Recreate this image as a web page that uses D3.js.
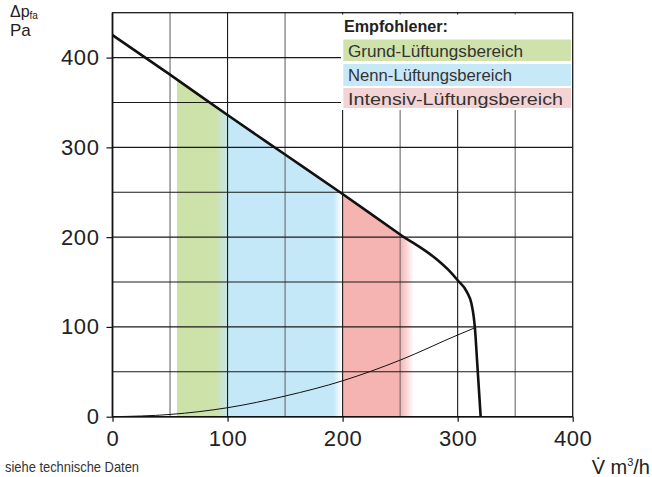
<!DOCTYPE html>
<html><head><meta charset="utf-8">
<script src="https://cdn.jsdelivr.net/npm/d3@7"></script>
<style>
html,body{margin:0;padding:0;background:#fff;}
svg{display:block;font-family:"Liberation Sans",Arial,Helvetica,sans-serif;}
</style></head>
<body>
<svg id="chart" width="652" height="477"></svg>
<script>
// ---- data ----
const xTicks = [0, 100, 200, 300, 400];
const yTicks = [0, 100, 200, 300, 400];
const gridX = [50, 100, 150, 200, 250, 300, 350];
const gridY = [50, 100, 150, 200, 250, 300, 350, 400];
const fanX = [0, 50, 100, 150, 200, 250, 283, 292, 300, 308, 312, 314, 315, 317, 320];
const fanP = [425, 381, 336, 292, 248, 203, 174, 163.5, 152, 139, 126, 111, 99, 60, 0];
const sysX = [0, 50, 100, 150, 200, 250, 300, 315];
const sysP = [0, 2.5, 10, 23, 40, 63, 91, 99];
const bandStart = 56;   // Grund begins
const bandEnd = 262;    // Intensiv fades out
const legendTitle = "Empfohlener:";
const legendLabels = ["Grund-Lüftungsbereich", "Nenn-Lüftungsbereich", "Intensiv-Lüftungsbereich"];
const legendColors = ["#cfe2ab", "#c7e8f7", "#f4d3d5"];

const svg = d3.select("#chart");
const x = d3.scaleLinear().domain([0, 400]).range([112.5, 572.7]);
const y = d3.scaleLinear().domain([0, 450]).range([416.7, 12.7]);

// ---- gradient for bands ----
const defs = svg.append("defs");
const grad = defs.append("linearGradient").attr("id", "bands")
  .attr("gradientUnits", "userSpaceOnUse")
  .attr("x1", x(bandStart)).attr("x2", x(bandEnd)).attr("y1", 0).attr("y2", 0);
const off = v => (v - bandStart) / (bandEnd - bandStart);
const stops = [
  [56, "#cde2a9"], [89, "#cde2a9"], [102, "#c5e8f8"], [192, "#c5e8f8"],
  [199.3, "#ffffff"], [199.6, "#f5b4b2"], [250, "#f5b4b2"], [262, "#ffffff"]
];
stops.forEach(s => grad.append("stop").attr("offset", off(s[0])).attr("stop-color", s[1]));

// clip area under fan curve
const fanPts = fanX.map((v, i) => [v, fanP[i]]);
const area = d3.area().x(d => x(d[0])).y0(y(0)).y1(d => y(d[1])).curve(d3.curveMonotoneX);
defs.append("clipPath").attr("id", "under").append("path").attr("d", area(fanPts));

svg.append("rect")
  .attr("x", x(bandStart)).attr("y", y(450))
  .attr("width", x(bandEnd) - x(bandStart)).attr("height", y(0) - y(450))
  .attr("fill", "url(#bands)").attr("clip-path", "url(#under)");

// ---- grid ----
svg.append("g").selectAll("line").data(gridX).join("line")
  .attr("x1", d => x(d)).attr("x2", d => x(d)).attr("y1", y(0)).attr("y2", y(450))
  .attr("stroke", d => d % 100 === 0 ? "#1a1a1a" : "#6a6a6a").attr("stroke-width", 1.1);
svg.append("g").selectAll("line").data(gridY).join("line")
  .attr("x1", x(0)).attr("x2", x(400)).attr("y1", d => y(d)).attr("y2", d => y(d))
  .attr("stroke", "#1a1a1a").attr("stroke-width", 1.1);

// ---- legend ----
const lg = svg.append("g");
lg.append("rect").attr("x", 341).attr("y", 14.5).attr("width", x(400) - 341).attr("height", 95.5).attr("fill", "#fff");
lg.append("text").attr("x", 344).attr("y", 32).attr("font-size", 16).attr("font-weight", "bold")
  .attr("fill", "#222").attr("textLength", 104).attr("lengthAdjust", "spacingAndGlyphs").text(legendTitle);
const rowTop = [39.5, 64, 88];
const rowH = [21.5, 22, 20];
const labelW = [175, 164, 215];
legendLabels.forEach((t, i) => {
  lg.append("rect").attr("x", 343.3).attr("y", rowTop[i]).attr("width", 571 - 343.3).attr("height", rowH[i])
    .attr("fill", legendColors[i]);
  lg.append("text").attr("x", 348).attr("y", rowTop[i] + 17).attr("font-size", 17)
    .attr("fill", "#333").attr("textLength", labelW[i]).attr("lengthAdjust", "spacingAndGlyphs").text(t);
});

// ---- curves ----
svg.append("path").attr("d", d3.line().x(d => x(d[0])).y(d => y(d[1])).curve(d3.curveMonotoneX)(sysX.map((v, i) => [v, sysP[i]])))
  .attr("fill", "none").attr("stroke", "#111").attr("stroke-width", 1);
svg.append("path").attr("d", d3.line().x(d => x(d[0])).y(d => y(d[1])).curve(d3.curveMonotoneX)(fanPts))
  .attr("fill", "none").attr("stroke", "#111").attr("stroke-width", 2.6).attr("stroke-linejoin", "round");

// ---- frame & axes ----
svg.append("rect").attr("x", x(0)).attr("y", y(450)).attr("width", x(400) - x(0)).attr("height", y(0) - y(450))
  .attr("fill", "none").attr("stroke", "#1a1a1a").attr("stroke-width", 1.3);
svg.append("line").attr("x1", x(0)).attr("x2", x(400)).attr("y1", y(0)).attr("y2", y(0)).attr("stroke", "#111").attr("stroke-width", 1.6);
svg.append("line").attr("x1", x(0)).attr("x2", x(0)).attr("y1", y(0)).attr("y2", y(450)).attr("stroke", "#111").attr("stroke-width", 1.6);

const xAxis = d3.axisBottom(x).tickValues(xTicks).tickSize(5).tickPadding(9).tickFormat(d3.format("d"));
const gx = svg.append("g").attr("transform", `translate(0,${y(0)})`).call(xAxis);
gx.select(".domain").remove();
gx.selectAll(".tick line").attr("stroke", "#111").attr("stroke-width", 1.2);
gx.selectAll(".tick text").attr("font-size", 22).attr("fill", "#222").attr("letter-spacing", 0.6)
  .attr("font-family", "'Liberation Sans',Arial,sans-serif").attr("dy", "0.71em");

const yAxis = d3.axisLeft(y).tickValues(yTicks).tickSize(6).tickPadding(7).tickFormat(d3.format("d"));
const gy = svg.append("g").attr("transform", `translate(${x(0)},0)`).call(yAxis);
gy.select(".domain").remove();
gy.selectAll(".tick line").attr("stroke", "#111").attr("stroke-width", 1.2);
gy.selectAll(".tick text").attr("font-size", 22).attr("fill", "#222").attr("letter-spacing", 0.6)
  .attr("font-family", "'Liberation Sans',Arial,sans-serif");

// ---- axis titles ----
const yt = svg.append("text").attr("x", 10).attr("y", 17).attr("font-size", 16).attr("fill", "#222");
yt.append("tspan").text("Δp");
yt.append("tspan").attr("font-size", 10).attr("dy", 2).text("fa");
svg.append("text").attr("x", 10).attr("y", 36).attr("font-size", 17).attr("fill", "#222").text("Pa");

const xt = svg.append("text").attr("x", 650).attr("y", 474).attr("text-anchor", "end").attr("font-size", 20).attr("fill", "#222");
xt.append("tspan").text("V̇ m");
xt.append("tspan").attr("font-size", 11).attr("dy", -8).text("3");
xt.append("tspan").attr("dy", 8).text("/h");

svg.append("text").attr("x", 5).attr("y", 472).attr("font-size", 15).attr("fill", "#333")
  .attr("font-family", "'Liberation Sans Narrow','Liberation Sans',Arial,sans-serif")
  .attr("textLength", 134).attr("lengthAdjust", "spacingAndGlyphs").text("siehe technische Daten");
</script>
</body></html>
